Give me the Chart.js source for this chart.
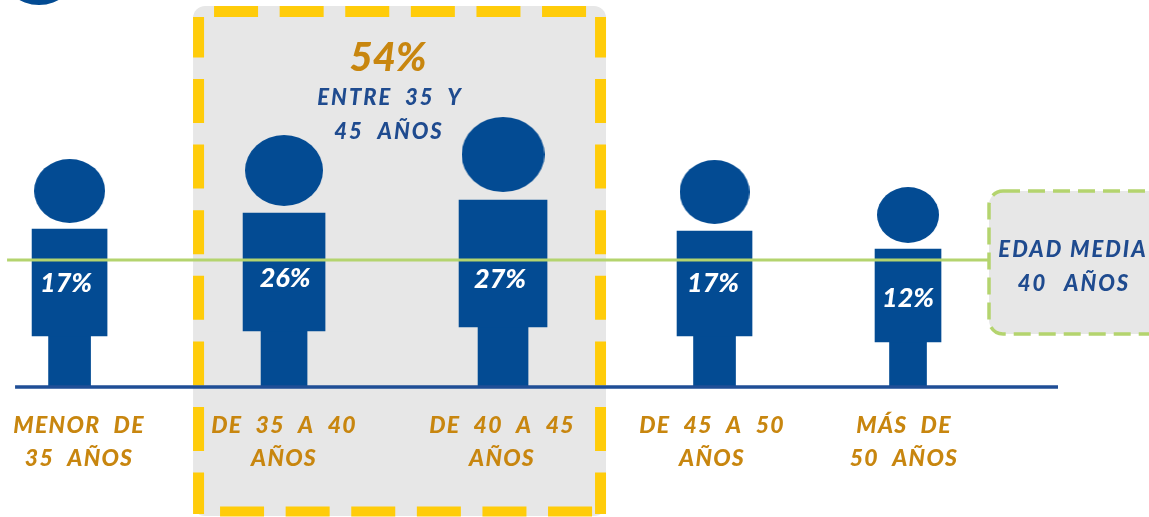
<!DOCTYPE html>
<html>
<head>
<meta charset="utf-8">
<title>Edad</title>
<script src="https://cdn.jsdelivr.net/npm/chart.js@4"></script>
<style>
html, body { margin: 0; padding: 0; background: #fff; overflow: hidden; }
canvas { display: block; filter: blur(0.5px); }
</style>
</head>
<body>
<canvas id="edad" width="1149" height="517"></canvas>
<script>
// data
const categories = [
    ["MENOR DE", "35 AÑOS"],
    ["DE 35 A 40", "AÑOS"],
    ["DE 40 A 45", "AÑOS"],
    ["DE 45 A 50", "AÑOS"],
    ["MÁS DE", "50 AÑOS"]
];
const shares = [17, 26, 27, 17, 12];
const figureAt = [69.5, 284, 503, 714.5, 908];
// height above the floor line
const legTop = [51, 56, 60, 51, 45];
const torsoTop = [158, 174, 187, 156, 138];
const headMiddle = [196, 216.5, 232.5, 195, 172];
const averageAge = 127;

// look of the figures
const BLUE = "#034b93";
const LINE_BLUE = "#1f4e96";
const GREEN = "#b4d46e";
const GOLD = "#c8860f";
const TEXT_BLUE = "#1f4b8f";
const YELLOW = "#ffcc0a";
const GREY = "#e7e7e7";
const FONT = "Lato";

const torsoWidth = [75, 82, 88, 75, 66];
const legWidth = [42, 46, 50, 42, 37];
const headWidth = [71, 78, 83, 70, 62];
const headHeight = [64, 71, 75, 64, 56];
const labelAt = [79, 284, 502, 712, 904];
const shareX = [66, 285, 500, 713, 908];
const shareY = [104, 109, 108, 104, 89];

function headImage(w, h) {
    const c = document.createElement("canvas");
    c.width = w;
    c.height = h;
    const g = c.getContext("2d");
    g.fillStyle = BLUE;
    g.beginPath();
    g.ellipse(w / 2, h / 2, w / 2, h / 2, 0, 0, Math.PI * 2);
    g.fill();
    return c;
}

const barSets = [];
figureAt.forEach((x, i) => {
    barSets.push({
        data: [{ x: x, y: [legTop[i], torsoTop[i]] }],
        backgroundColor: BLUE,
        barThickness: torsoWidth[i],
        grouped: false,
        order: 3
    });
    barSets.push({
        data: [{ x: x, y: [0, legTop[i]] }],
        backgroundColor: BLUE,
        barThickness: legWidth[i],
        grouped: false,
        order: 3
    });
});

function write(ctx, text, x, y, size, color, spacing, wordGap) {
    ctx.font = "italic 900 " + size + "px " + FONT;
    ctx.fillStyle = color;
    ctx.textAlign = "center";
    ctx.textBaseline = "middle";
    ctx.letterSpacing = spacing + "px";
    ctx.wordSpacing = wordGap + "px";
    ctx.fillText(text, x, y);
}

function side(ctx, x1, y1, x2, y2, color, width, dash, offset) {
    ctx.strokeStyle = color;
    ctx.lineWidth = width;
    ctx.setLineDash(dash);
    ctx.lineDashOffset = offset;
    ctx.beginPath();
    ctx.moveTo(x1, y1);
    ctx.lineTo(x2, y2);
    ctx.stroke();
    ctx.setLineDash([]);
}

// grey panels behind the chart, they sit in the same axis units
const panels = {
    id: "panels",
    beforeDraw(chart) {
        const ctx = chart.ctx;
        const px = chart.scales.x;
        const py = chart.scales.y;
        const left = px.getPixelForValue(193), right = px.getPixelForValue(606);
        const top = py.getPixelForValue(381), bottom = py.getPixelForValue(-129);

        ctx.save();
        // blue disc cut by the top edge
        ctx.fillStyle = BLUE;
        ctx.beginPath();
        ctx.ellipse(39, -28, 37, 33, 0, 0, Math.PI * 2);
        ctx.fill();

        ctx.fillStyle = GREY;
        ctx.beginPath();
        ctx.roundRect(left, top, right - left, bottom - top, 12);
        ctx.fill();

        const dash = [44, 21.6];
        side(ctx, left + 5.5, top + 11, left + 5.5, bottom - 2, YELLOW, 11, dash, 3.6);
        side(ctx, right - 5.5, top + 11, right - 5.5, bottom - 2, YELLOW, 11, dash, 3.6);
        side(ctx, left + 21, top + 5.5, right - 10, top + 5.5, YELLOW, 11, dash, 0);
        side(ctx, left + 27, bottom - 4.5, right - 10, bottom - 4.5, YELLOW, 10, dash, 0);

        // average age box
        const bx = px.getPixelForValue(989), by = py.getPixelForValue(196);
        const bh = py.getPixelForValue(53) - by;
        ctx.fillStyle = GREY;
        ctx.strokeStyle = GREEN;
        ctx.lineWidth = 3.5;
        ctx.setLineDash([17, 8]);
        ctx.beginPath();
        ctx.roundRect(bx, by, 200, bh, 14);
        ctx.fill();
        ctx.stroke();
        ctx.restore();

        // spacing for the axis labels
        ctx.letterSpacing = "1.3px";
        ctx.wordSpacing = "7px";
    },
    afterDatasetsDraw(chart) {
        const ctx = chart.ctx;
        const px = chart.scales.x;
        const py = chart.scales.y;
        ctx.save();
        shares.forEach((v, i) => {
            write(ctx, v + "%", px.getPixelForValue(shareX[i]), py.getPixelForValue(shareY[i]), 27, "#fff", 0, 0);
        });
        write(ctx, "54%", px.getPixelForValue(388), py.getPixelForValue(329), 40, GOLD, 0, 0);
        write(ctx, "ENTRE 35 Y", px.getPixelForValue(390), py.getPixelForValue(289), 22, TEXT_BLUE, 2, 6);
        write(ctx, "45 AÑOS", px.getPixelForValue(389), py.getPixelForValue(255), 22, TEXT_BLUE, 2, 7);
        write(ctx, "EDAD MEDIA", px.getPixelForValue(1073), py.getPixelForValue(137), 22, TEXT_BLUE, 2, 0);
        write(ctx, "40 AÑOS", px.getPixelForValue(1074), py.getPixelForValue(103), 22, TEXT_BLUE, 2, 10);
        ctx.restore();
    }
};

new Chart(document.getElementById("edad"), {
    type: "bar",
    data: {
        datasets: [
            {
                type: "line",
                data: [{ x: 7, y: averageAge }, { x: 989, y: averageAge }],
                borderColor: GREEN,
                borderWidth: 3,
                pointRadius: 0,
                clip: false,
                order: 1
            },
            {
                type: "line",
                data: [{ x: 15, y: 0 }, { x: 1058, y: 0 }],
                borderColor: LINE_BLUE,
                borderWidth: 3.5,
                pointRadius: 0,
                clip: false,
                order: 2
            },
            {
                type: "scatter",
                data: figureAt.map((x, i) => ({ x: x, y: headMiddle[i] })),
                pointStyle: headWidth.map((w, i) => headImage(w, headHeight[i])),
                pointRadius: 10,
                clip: false,
                order: 3
            },
            ...barSets
        ]
    },
    options: {
        responsive: false,
        animation: false,
        devicePixelRatio: 1,
        layout: { padding: 0, autoPadding: false },
        plugins: {
            legend: { display: false },
            tooltip: { enabled: false }
        },
        scales: {
            x: {
                type: "linear",
                min: 0,
                max: 1149,
                offset: false,
                grid: { display: false, drawTicks: false },
                border: { display: false },
                afterBuildTicks(scale) {
                    scale.ticks = labelAt.map(v => ({ value: v }));
                },
                afterFit(scale) {
                    scale.height = 130;
                },
                ticks: {
                    autoSkip: false,
                    maxRotation: 0,
                    padding: 22,
                    color: GOLD,
                    font: { family: FONT, size: 23, weight: "900", style: "italic", lineHeight: 1.45 },
                    callback(value, index) {
                        return categories[index];
                    }
                }
            },
            y: {
                display: false,
                min: 0,
                max: 387
            }
        }
    },
    plugins: [panels]
});
</script>
</body>
</html>
